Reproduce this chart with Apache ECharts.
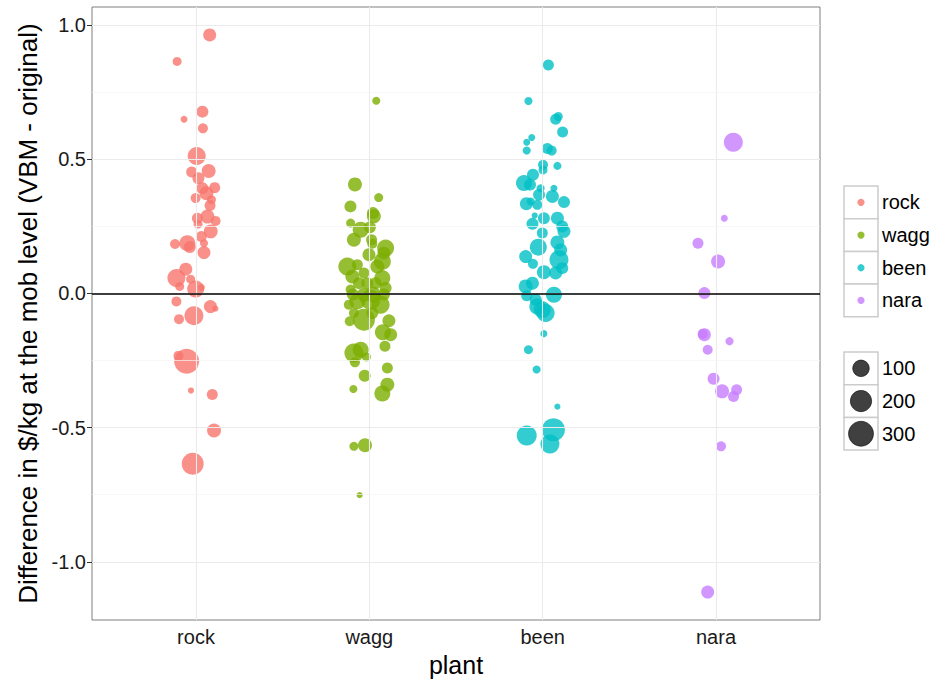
<!DOCTYPE html>
<html>
<head>
<meta charset="utf-8">
<script src="https://cdn.jsdelivr.net/npm/echarts@6/dist/echarts.min.js"></script>
<style>html,body{margin:0;padding:0;background:#fff}#c{width:934px;height:684px}</style>
</head>
<body>
<div id="c"></div>
<script>
// ---- data ----
const categories = ['rock', 'wagg', 'been', 'nara'];
const colors = ['#F8766D', '#7CAE00', '#00BFC4', '#C77CFF'];
const yTicks = [-1.0, -0.5, 0.0, 0.5, 1.0];
const yMinor = [-0.75, -0.25, 0.25, 0.75];
const sizeBreaks = [100, 200, 300];

// [jittered x position, difference, size]
const rock = [
  [1.079, 0.963, 48], [0.891, 0.864, 12], [1.037, 0.677, 37], [0.931, 0.649, 3],
  [1.040, 0.615, 19], [1.004, 0.512, 128], [0.975, 0.452, 27], [1.073, 0.456, 61],
  [1.014, 0.429, 37], [1.037, 0.392, 37], [1.108, 0.394, 27], [1.060, 0.373, 61],
  [0.998, 0.355, 19], [1.089, 0.349, 12], [1.081, 0.327, 27], [1.008, 0.280, 27],
  [1.066, 0.286, 61], [1.113, 0.270, 19], [1.012, 0.258, 12], [1.085, 0.231, 61],
  [1.031, 0.212, 27], [0.879, 0.184, 19], [0.950, 0.187, 91], [0.964, 0.173, 37],
  [1.046, 0.187, 7], [1.046, 0.152, 48], [0.941, 0.090, 48], [0.887, 0.057, 128],
  [0.969, 0.053, 12], [0.906, 0.026, 12], [0.998, 0.016, 109], [1.031, 0.022, 3],
  [0.887, -0.030, 19], [1.083, -0.049, 48], [1.112, -0.057, 1], [0.902, -0.096, 19],
  [0.988, -0.083, 148], [0.899, -0.232, 19], [0.946, -0.253, 302], [0.971, -0.362, 1],
  [1.094, -0.377, 27], [1.104, -0.511, 61], [0.981, -0.635, 218]
];
const wagg = [
  [2.040, 0.718, 7], [1.917, 0.406, 61], [2.054, 0.357, 12], [1.891, 0.324, 37],
  [2.021, 0.299, 37], [2.026, 0.287, 61], [1.892, 0.262, 12], [1.950, 0.237, 91],
  [2.003, 0.246, 37], [1.911, 0.200, 61], [2.013, 0.200, 27], [2.017, 0.185, 19],
  [2.094, 0.169, 109], [2.084, 0.150, 48], [1.998, 0.144, 48], [2.075, 0.119, 109],
  [1.873, 0.100, 128], [1.931, 0.107, 27], [2.046, 0.100, 61], [1.902, 0.063, 61],
  [1.969, 0.076, 27], [2.075, 0.057, 91], [1.940, 0.038, 37], [2.036, 0.038, 37],
  [1.988, 0.038, 37], [2.094, 0.020, 37], [1.892, 0.014, 19], [1.905, -0.004, 37],
  [2.020, -0.004, 91], [2.084, -0.004, 37], [1.969, -0.005, 61], [1.931, -0.030, 91],
  [2.007, -0.024, 170], [2.065, -0.042, 128], [1.882, -0.042, 19], [1.969, -0.098, 218],
  [1.911, -0.073, 19], [2.017, -0.073, 37], [1.887, -0.104, 19], [2.113, -0.102, 48],
  [2.078, -0.145, 91], [2.123, -0.154, 48], [2.090, -0.197, 27], [1.911, -0.222, 148],
  [1.950, -0.210, 91], [1.983, -0.237, 12], [1.917, -0.257, 19], [2.104, -0.278, 27],
  [1.973, -0.307, 37], [1.908, -0.356, 7], [2.104, -0.340, 61], [2.075, -0.373, 91],
  [1.911, -0.570, 12], [1.975, -0.566, 61], [1.944, -0.752, 1]
];
const been = [
  [3.033, 0.851, 27], [2.918, 0.717, 7], [3.075, 0.649, 27], [3.090, 0.659, 12],
  [3.115, 0.601, 27], [2.937, 0.581, 3], [2.908, 0.563, 3], [2.908, 0.532, 7],
  [3.027, 0.540, 27], [3.052, 0.532, 19], [3.002, 0.479, 19], [3.085, 0.475, 7],
  [3.002, 0.460, 12], [2.944, 0.442, 37], [2.892, 0.411, 91], [2.927, 0.405, 37],
  [2.988, 0.392, 7], [3.065, 0.392, 3], [2.979, 0.367, 37], [3.056, 0.361, 48],
  [3.123, 0.340, 37], [2.906, 0.334, 48], [2.969, 0.330, 19], [2.931, 0.342, 7],
  [2.954, 0.290, 1], [3.007, 0.280, 37], [3.085, 0.280, 48], [2.941, 0.259, 37],
  [3.113, 0.249, 37], [2.998, 0.225, 27], [3.123, 0.231, 48], [3.085, 0.190, 61],
  [2.975, 0.172, 109], [3.104, 0.162, 48], [2.902, 0.137, 48], [3.094, 0.125, 148],
  [2.944, 0.110, 19], [3.113, 0.094, 37], [3.007, 0.079, 61], [3.075, 0.076, 48],
  [2.902, 0.026, 61], [2.941, 0.038, 48], [3.065, -0.005, 91], [2.908, -0.009, 27],
  [2.960, -0.024, 37], [2.969, -0.049, 91], [2.998, -0.061, 109], [3.017, -0.073, 128],
  [3.007, -0.150, 3], [2.918, -0.210, 12], [2.965, -0.284, 7], [3.085, -0.422, 1],
  [2.908, -0.530, 170], [3.062, -0.508, 245], [3.042, -0.561, 148]
];
const nara = [
  [4.100, 0.563, 148], [4.048, 0.280, 3], [3.896, 0.187, 27], [4.012, 0.119, 61],
  [3.933, 0.001, 37], [3.933, -0.154, 48], [3.923, -0.151, 19], [4.078, -0.178, 7],
  [3.952, -0.210, 19], [3.986, -0.318, 37], [4.035, -0.365, 61], [4.119, -0.359, 27],
  [4.101, -0.384, 27], [4.029, -0.570, 19], [3.952, -1.113, 48]
];
const seriesData = [rock, wagg, been, nara];

// ---- chart ----
const FONT = 'Liberation Sans, Arial, sans-serif';
const sizeFn = v => 5 + 1.15 * Math.sqrt(v);
const gridL = 92, gridR = 820, gridT = 7, gridB = 620;

const chart = echarts.init(document.getElementById('c'), null, { renderer: 'svg' });

const gridLines = [];
categories.forEach((c, i) => gridLines.push({ xAxis: i + 1, lineStyle: { color: '#ebebeb', width: 1.1, type: 'solid' } }));
yTicks.forEach(v => gridLines.push({ yAxis: v, lineStyle: { color: '#ebebeb', width: 1.1, type: 'solid' } }));
yMinor.forEach(v => gridLines.push({ yAxis: v, lineStyle: { color: '#f3f3f3', width: 0.7, type: 'solid' } }));

const series = [{
  type: 'scatter', name: '_grid', data: [[2.5, 0]], symbolSize: 0, silent: true, z: 1,
  markLine: { silent: true, symbol: 'none', label: { show: false }, animation: false, data: gridLines }
}];
categories.forEach((c, i) => series.push({
  type: 'scatter', name: c, data: seriesData[i], z: 3,
  symbolSize: d => sizeFn(d[2]),
  itemStyle: { color: colors[i], opacity: 0.8 },
  emphasis: { disabled: true }
}));
series.push({
  type: 'scatter', name: '_zero', data: [[2.5, 0]], symbolSize: 0, silent: true, z: 5,
  markLine: { silent: true, symbol: 'none', label: { show: false }, animation: false,
    data: [{ yAxis: 0, lineStyle: { color: '#000', width: 1.6, type: 'solid' } }] }
});

// legend drawn with graphic elements
const graphic = [];
const keyX = 844, keyW = 34, keyH = 32.7, colorTop = 186, sizeTop = 352;
categories.forEach((c, i) => {
  const y = colorTop + i * keyH;
  graphic.push({ type: 'rect', shape: { x: keyX, y: y, width: keyW, height: keyH },
    style: { fill: '#fff', stroke: '#cccccc', lineWidth: 1.5 } });
  graphic.push({ type: 'circle', shape: { cx: keyX + keyW / 2, cy: y + keyH / 2, r: 3.6 },
    style: { fill: colors[i], opacity: 0.8 } });
  graphic.push({ type: 'text', x: keyX + keyW + 4, y: y + keyH / 2,
    style: { text: c, font: '20px ' + FONT, fill: '#000', verticalAlign: 'middle' } });
});
sizeBreaks.forEach((s, i) => {
  const y = sizeTop + i * keyH;
  graphic.push({ type: 'rect', shape: { x: keyX, y: y, width: keyW, height: keyH },
    style: { fill: '#fff', stroke: '#cccccc', lineWidth: 1.5 } });
  graphic.push({ type: 'circle', shape: { cx: keyX + keyW / 2, cy: y + keyH / 2, r: sizeFn(s) / 2 },
    style: { fill: 'rgba(0,0,0,0.75)', stroke: '#000', lineWidth: 0.6 } });
  graphic.push({ type: 'text', x: keyX + keyW + 4, y: y + keyH / 2,
    style: { text: String(s), font: '20px ' + FONT, fill: '#000', verticalAlign: 'middle' } });
});

chart.setOption({
  animation: false,
  backgroundColor: '#fff',
  textStyle: { fontFamily: FONT },
  grid: { left: gridL, right: 934 - gridR, top: gridT, bottom: 684 - gridB,
    show: true, borderColor: '#7f7f7f', borderWidth: 1, backgroundColor: '#fff', containLabel: false },
  xAxis: {
    type: 'value', min: 0.4, max: 4.6,
    name: 'plant', nameLocation: 'middle', nameGap: 32,
    nameTextStyle: { fontSize: 25, color: '#000', fontFamily: FONT },
    axisLine: { show: false },
    splitLine: { show: false },
    axisTick: { show: true, length: 5, lineStyle: { color: '#333' }, customValues: [1, 2, 3, 4] },
    axisLabel: { customValues: [1, 2, 3, 4], fontSize: 20, color: '#1a1a1a', margin: 7,
      formatter: v => categories[Math.round(v) - 1] || '' }
  },
  yAxis: {
    type: 'value', min: -1.217, max: 1.067,
    name: 'Difference in $/kg at the mob level (VBM - original)', nameLocation: 'middle', nameGap: 51,
    nameTextStyle: { fontSize: 26, color: '#000', fontFamily: FONT },
    axisLine: { show: false },
    splitLine: { show: false },
    axisTick: { show: true, length: 5, lineStyle: { color: '#333' }, customValues: yTicks },
    axisLabel: { customValues: yTicks, fontSize: 20, color: '#1a1a1a', margin: 6,
      formatter: v => v.toFixed(1) }
  },
  graphic: graphic,
  series: series
});
</script>
</body>
</html>
